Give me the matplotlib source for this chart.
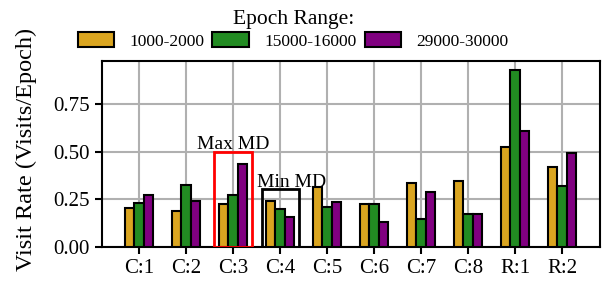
import numpy as np
import matplotlib
matplotlib.use("Agg")
import matplotlib.pyplot as plt
from matplotlib.patches import Rectangle

plt.rcParams['font.family'] = ['Liberation Serif', 'DejaVu Serif']

categories = ["C:1", "C:2", "C:3", "C:4", "C:5", "C:6", "C:7", "C:8", "R:1", "R:2"]
series_labels = ["1000-2000", "15000-16000", "29000-30000"]
series_colors = ["goldenrod", "forestgreen", "purple"]
rate_early = [0.206, 0.187, 0.225, 0.240, 0.316, 0.225, 0.337, 0.348, 0.526, 0.418]
rate_mid = [0.229, 0.323, 0.274, 0.201, 0.210, 0.227, 0.145, 0.171, 0.926, 0.322]
rate_late = [0.274, 0.243, 0.434, 0.159, 0.234, 0.133, 0.287, 0.171, 0.607, 0.491]

x = np.arange(len(categories))
largeur = 0.2

fig, ax = plt.subplots(figsize=(6.02, 2.82), dpi=100)
fig.subplots_adjust(left=0.169, right=0.997, top=0.784, bottom=0.124)

for i, (vals, lab, col) in enumerate(zip([rate_early, rate_mid, rate_late], series_labels, series_colors)):
    ax.bar(x + (i - 1) * largeur, vals, largeur, label=lab, color=col,
           edgecolor="black", linewidth=1.5, zorder=3)

# boites Max / Min MD
ax.add_patch(Rectangle((1.6, 0), 0.8, 0.5, fill=False, edgecolor="red", linewidth=2, zorder=4))
ax.text(2.0, 0.515, "Max MD", ha="center", va="baseline", fontsize=14, zorder=5)
ax.add_patch(Rectangle((2.62, 0), 0.78, 0.304, fill=False, edgecolor="black", linewidth=2, zorder=4))
ax.text(3.25, 0.314, "Min MD", ha="center", va="baseline", fontsize=14, zorder=5)

ax.set_xticks(x)
ax.set_xticklabels(categories, fontsize=15)
ax.set_yticks([0, 0.25, 0.5, 0.75])
ax.tick_params(axis="y", labelsize=15)
ax.tick_params(width=1.5, length=5)
ax.set_xlim(-0.79, 9.81)
ax.set_ylim(0, 0.975)
ax.set_ylabel("Visit Rate (Visits/Epoch)", fontsize=17.5)
ax.yaxis.set_label_coords(-0.13, 0.525)
ax.grid(True, color="#b0b0b0", linewidth=1.5, zorder=0)
for sp in ax.spines.values():
    sp.set_linewidth(1.5)

handles, labels = ax.get_legend_handles_labels()
leg = fig.legend(handles, labels, title="Epoch Range:", ncol=3, loc="upper center",
                 bbox_to_anchor=(0.487, 0.98),
                 frameon=False, fontsize=12.5, title_fontsize=15.5,
                 handlelength=2.1, handleheight=0.9, handletextpad=0.9, columnspacing=0.45,
                 borderaxespad=0.1, labelspacing=0.2, borderpad=0.15)

plt.savefig("out.png", dpi=100)
